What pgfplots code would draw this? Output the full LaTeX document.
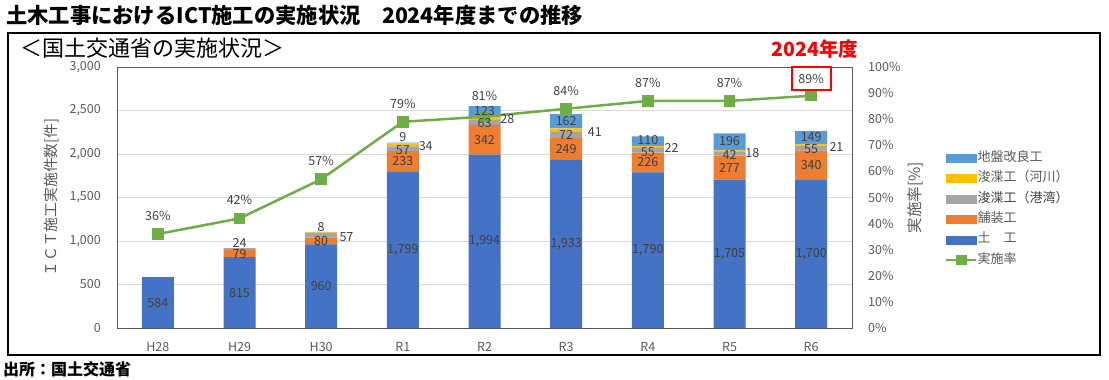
\documentclass[border=0pt]{standalone}
\usepackage{fontspec}
\setmainfont{Noto Sans CJK JP}
\usepackage{pgfplots}
\pgfplotsset{compat=1.18}
\definecolor{cTu}{HTML}{4472C4}
\definecolor{cPav}{HTML}{ED7D31}
\definecolor{cKou}{HTML}{A5A5A5}
\definecolor{cKasen}{HTML}{FFC000}
\definecolor{cJiban}{HTML}{5B9BD5}
\definecolor{cGreen}{HTML}{70AD47}
\definecolor{gridc}{HTML}{D9D9D9}
\definecolor{axisc}{HTML}{595959}
\definecolor{tickc}{HTML}{595959}
\definecolor{labc}{HTML}{404040}
\definecolor{redc}{HTML}{FF0000}
\newcommand{\tfont}{\fontsize{12.5}{13}\selectfont}
\newcommand{\lfont}{\fontsize{12.5}{13}\selectfont}
\pgfplotsset{
  ratelegend/.style={legend image code/.code={\draw[##1, mark repeat=2, mark phase=2, mark size=4pt] plot coordinates {(0pt,0pt) (15pt,0pt) (30pt,0pt)};}},
  patchlegend/.style={legend image code/.code={\fill[#1] (0pt,-4pt) rectangle (30pt,4pt);}},
}
\begin{document}
\begin{tikzpicture}
\useasboundingbox (0pt,0pt) rectangle (1109pt,-380pt);
\draw[line width=1.3pt] (8pt,-33pt) rectangle (1100pt,-355pt);
\node[anchor=west, inner sep=0pt, font=\fontsize{21.3}{24}\selectfont\bfseries] at (6pt,-15pt) {土木工事におけるICT施工の実施状況　2024年度までの推移};
\node[anchor=west, inner sep=0pt, font=\fontsize{22}{24}\selectfont] at (20pt,-48pt) {＜国土交通省の実施状況＞};
\node[anchor=center, inner sep=0pt, text=redc, font=\fontsize{19.5}{22}\selectfont\bfseries] at (815pt,-49pt) {2024年度};
\node[anchor=west, inner sep=0pt, font=\fontsize{16}{18}\selectfont\bfseries] at (3pt,-369pt) {出所：国土交通省};

% bars
\begin{axis}[
  at={(117pt,-328pt)}, anchor=south west,
  scale only axis, width=735pt, height=261pt,
  xmin=-0.5, xmax=8.5, ymin=0, ymax=3000,
  ybar stacked, bar width=32pt,
  xtick={0,1,2,3,4,5,6,7,8},
  xticklabels={H28,H29,H30,R1,R2,R3,R4,R5,R6},
  ytick={0,500,1000,1500,2000,2500,3000},
  yticklabels={0,500,{1,000},{1,500},{2,000},{2,500},{3,000}},
  major tick length=0pt,
  ymajorgrids, grid style={draw=gridc, line width=0.8pt},
  axis line style={draw=axisc, line width=1pt},
  tick label style={font=\tfont, text=tickc},
  xticklabel style={anchor=center, yshift=-19pt, inner sep=0pt},
  yticklabel style={anchor=east, xshift=-16pt, inner sep=0pt},
  ylabel={ＩＣＴ施工実施件数[件]},
  ylabel style={at={(axis description cs:-0.0884,0.5)}, anchor=center, font=\fontsize{14.8}{15}\selectfont, text=tickc},
]
\addplot[fill=cTu, draw=none] coordinates {(0,584) (1,815) (2,960) (3,1799) (4,1994) (5,1933) (6,1790) (7,1705) (8,1700)};
\addplot[fill=cPav, draw=none] coordinates {(0,0) (1,79) (2,80) (3,233) (4,342) (5,249) (6,226) (7,277) (8,340)};
\addplot[fill=cKou, draw=none] coordinates {(0,0) (1,24) (2,57) (3,57) (4,63) (5,72) (6,55) (7,42) (8,55)};
\addplot[fill=cKasen, draw=none] coordinates {(0,0) (1,0) (2,8) (3,34) (4,28) (5,41) (6,22) (7,18) (8,21)};
\addplot[fill=cJiban, draw=none] coordinates {(0,0) (1,0) (2,0) (3,9) (4,123) (5,162) (6,110) (7,196) (8,149)};
\end{axis}

% rate line
\begin{axis}[
  at={(117pt,-328pt)}, anchor=south west,
  scale only axis, width=735pt, height=261pt,
  xmin=-0.5, xmax=8.5, ymin=0, ymax=100,
  axis x line=none, axis y line*=right, axis line style={draw=none},
  ytick={0,10,20,30,40,50,60,70,80,90,100},
  yticklabels={0\%,10\%,20\%,30\%,40\%,50\%,60\%,70\%,80\%,90\%,100\%},
  major tick length=0pt,
  tick label style={font=\tfont, text=tickc},
  yticklabel style={anchor=west, xshift=16pt, inner sep=0pt},
  ylabel={実施率[\%]},
  ylabel style={at={(axis description cs:1.0857,0.5)}, anchor=center, font=\fontsize{15.5}{16}\selectfont, text=tickc},
  clip=false,
  legend style={at={(axis description cs:1.1224,0.682)}, anchor=north west, draw=none, fill=none,
    font=\fontsize{13}{13}\selectfont, text=tickc, row sep=8.4pt,
    nodes={text height=9pt, text depth=3pt, inner sep=0pt, xshift=3pt}},
  legend cell align=left,
]
\addlegendimage{patchlegend=cJiban}
\addlegendentry{地盤改良工}
\addlegendimage{patchlegend=cKasen}
\addlegendentry{浚渫工（河川）}
\addlegendimage{patchlegend=cKou}
\addlegendentry{\textcolor{labc}{浚渫工（港湾）}}
\addlegendimage{patchlegend=cPav}
\addlegendentry{舗装工}
\addlegendimage{patchlegend=cTu}
\addlegendentry{土　工}
\addplot[color=cGreen, line width=2.5pt, mark=square*, mark size=4.5pt, ratelegend]
  coordinates {(0,36) (1,42) (2,57) (3,79) (4,81) (5,84) (6,87) (7,87) (8,89)};
\addlegendentry{実施率}
\addplot[draw=none, mark=none, forget plot, nodes near coords, point meta=explicit symbolic,
  every node near coord/.style={anchor=center, yshift=18pt, inner sep=0pt, font=\lfont, text=labc}]
  coordinates {(0,36)[36\%] (1,42)[42\%] (2,57)[57\%] (3,79)[79\%] (5,84)[84\%] (6,87)[87\%] (7,87)[87\%]};
\addplot[draw=none, mark=none, forget plot, nodes near coords, point meta=explicit symbolic,
  every node near coord/.style={anchor=center, yshift=21pt, inner sep=0pt, font=\lfont, text=labc}]
  coordinates {(4,81)[81\%]};
\addplot[draw=none, mark=none, forget plot, nodes near coords, point meta=explicit symbolic,
  every node near coord/.style={anchor=center, yshift=17pt, inner sep=0pt, font=\lfont, text=labc,
    draw=redc, line width=2pt, minimum width=39pt, minimum height=23pt}]
  coordinates {(8,89)[89\%]};
\end{axis}

% bar labels (on top)
\begin{axis}[
  at={(117pt,-328pt)}, anchor=south west,
  scale only axis, width=735pt, height=261pt,
  xmin=-0.5, xmax=8.5, ymin=0, ymax=3000,
  hide axis, clip=false,
  every node near coord/.style={anchor=center, inner sep=0pt, font=\lfont, text=labc},
]
% 土工 (centre of segment)
\addplot[draw=none, mark=none, nodes near coords, point meta=explicit symbolic] coordinates {(0,292)[584] (1,407.5)[815] (2,480)[960] (3,899.5)[1,799] (4,997)[1,994] (5,966.5)[1,933] (6,895)[1,790] (7,852.5)[1,705] (8,850)[1,700]};
% 舗装工
\addplot[draw=none, mark=none, nodes near coords, point meta=explicit symbolic] coordinates {(1,845)[79] (2,1000)[80] (3,1915)[233] (4,2165)[342] (5,2057)[249] (6,1903)[226] (7,1843)[277] (8,1870)[340]};
% 浚渫工（港湾）
\addplot[draw=none, mark=none, nodes near coords, point meta=explicit symbolic] coordinates {(1,977)[24] (2.31,1046)[57] (3,2050)[57] (4,2355)[63] (5,2215)[72] (6,2025)[55] (7,1990)[42] (8,2055)[55]};
% 浚渫工（河川）
\addplot[draw=none, mark=none, nodes near coords, point meta=explicit symbolic] coordinates {(2,1161)[8] (3.28,2092)[34] (4.28,2402)[28] (5.35,2253)[41] (6.29,2069)[22] (7.28,2011)[18] (8.31,2080)[21]};
% 地盤改良工
\addplot[draw=none, mark=none, nodes near coords, point meta=explicit symbolic] coordinates {(3,2195)[9] (4,2492)[123] (5,2375)[162] (6,2165)[110] (7,2148)[196] (8,2200)[149]};
\end{axis}
\end{tikzpicture}
\end{document}
